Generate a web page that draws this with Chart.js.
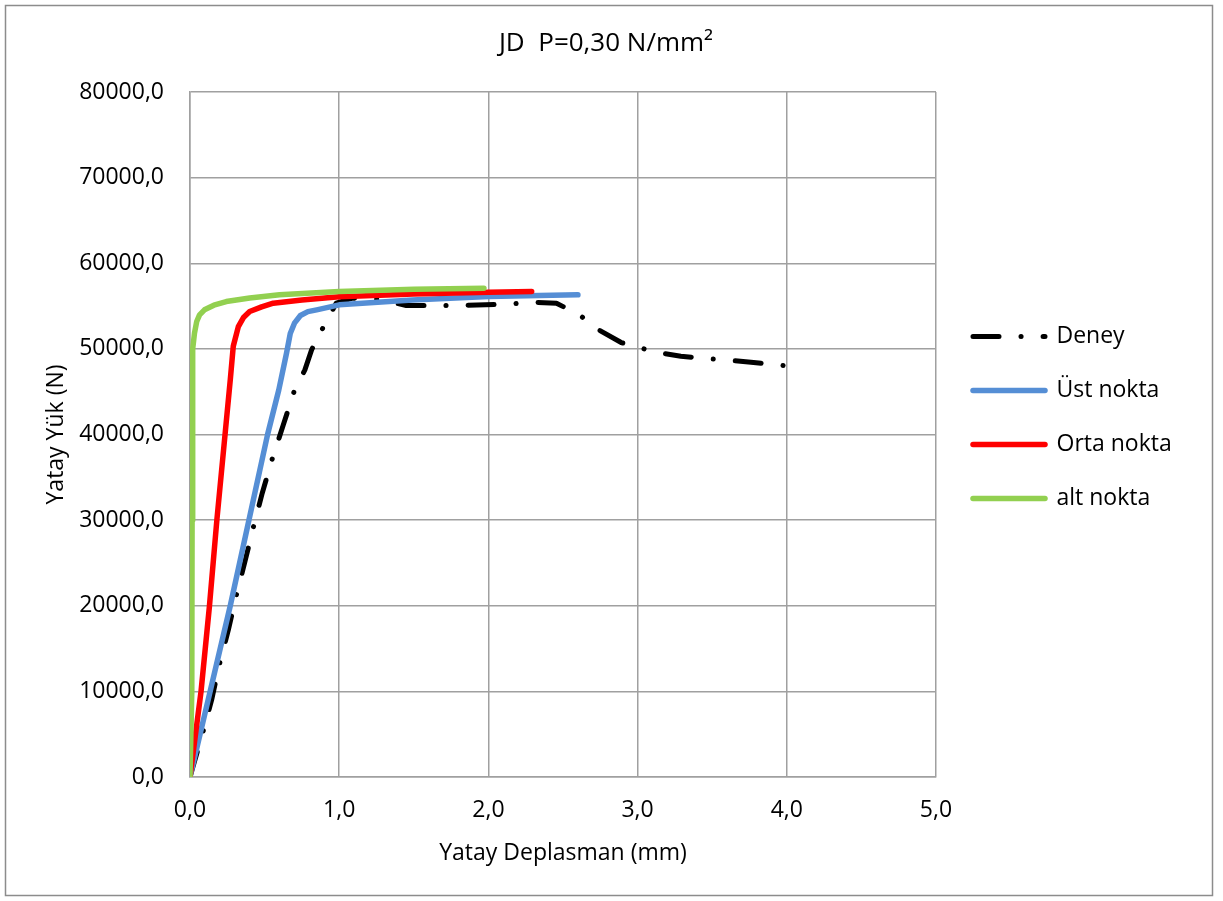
<!DOCTYPE html>
<html>
<head>
<meta charset="utf-8">
<title>JD P=0,30 N/mm²</title>
<script src="https://cdn.jsdelivr.net/npm/chart.js@4.4.1/dist/chart.umd.min.js"></script>
<style>
  html, body { margin: 0; padding: 0; background: #ffffff; }
</style>
</head>
<body>
<canvas id="yukChart" width="1223" height="901"></canvas>
<script>
// axis ticks
const xTicks = [0, 1, 2, 3, 4, 5];
const yTicks = [0, 10000, 20000, 30000, 40000, 50000, 60000, 70000, 80000];

// Deney (test)
const deneyX = [0, 0.085, 0.145, 0.196, 0.257, 0.308, 0.368, 0.424, 0.484, 0.549, 0.625, 0.697, 0.77, 0.815, 0.893, 0.98, 1.09, 1.27, 1.45, 1.63, 1.80, 2.13, 2.29, 2.456, 2.61, 2.74, 2.89, 3.13, 3.29, 3.46, 3.6, 3.76, 4.0];
const deneyY = [0, 5140, 9000, 13080, 17170, 21060, 25150, 29120, 33140, 37030, 41100, 44980, 47550, 49880, 52530, 55340, 55920, 55800, 55060, 55060, 55060, 55220, 55450, 55340, 53970, 52220, 50740, 49570, 49150, 48870, 48680, 48450, 48010];

// Üst nokta
const ustX = [0, 0.135, 0.27, 0.395, 0.52, 0.595, 0.647, 0.672, 0.70, 0.74, 0.79, 0.849, 1.0, 1.49, 2.0, 2.6];
const ustY = [0, 10000, 20000, 30000, 40000, 45200, 49500, 51800, 53000, 53900, 54350, 54560, 55140, 55720, 56110, 56310];

// Orta nokta
const ortaX = [0, 0.074, 0.13, 0.18, 0.27, 0.29, 0.324, 0.36, 0.40, 0.48, 0.558, 0.75, 1.0, 1.5, 2.0, 2.29];
const ortaY = [0, 10000, 19900, 30000, 46400, 50300, 52600, 53700, 54360, 54900, 55340, 55700, 56100, 56400, 56600, 56700];

// alt nokta
const altX = [0, 0.012, 0.014, 0.016, 0.02, 0.03, 0.045, 0.064, 0.097, 0.16, 0.243, 0.4, 0.6, 1.0, 1.5, 1.97];
const altY = [0, 10000, 30000, 45000, 50000, 51830, 53200, 53970, 54560, 55100, 55530, 55950, 56310, 56700, 56950, 57090];

const toPoints = (xs, ys) => xs.map((x, i) => ({ x: x, y: ys[i] }));
const fmt = (v) => Number(v).toFixed(1).replace(".", ",");

const gridColor = "#a0a0a0";
const font = "'Open Sans', sans-serif";

Chart.defaults.font.family = font;
Chart.defaults.font.size = 23;
Chart.defaults.color = "#000000";

// white background and outer frame
const framePlugin = {
    id: "frame",
    beforeDraw(chart) {
        const ctx = chart.ctx;
        ctx.save();
        ctx.fillStyle = "#ffffff";
        ctx.fillRect(0, 0, chart.width, chart.height);
        ctx.strokeStyle = "#8c8c8c";
        ctx.lineWidth = 1.5;
        ctx.strokeRect(5.5, 5.5, 1207, 890);
        ctx.restore();
    },
};

// fixed legend column to the right of the plot
const legendWidth = 276;
const legendShiftX = 6;
const legendShiftY = -18;
const legendFitPlugin = {
    id: "legendFit",
    beforeLayout(chart) {
        const lg = chart.legend;
        if (!lg._fixedWidth) {
            const fit = lg.fit;
            lg.fit = function () {
                fit.call(this);
                this.width = legendWidth;
            };
            lg._fixedWidth = true;
        }
    },
    afterLayout(chart) {
        const lg = chart.legend;
        lg.left += legendShiftX;
        lg.right += legendShiftX;
        lg.top += legendShiftY;
        lg.bottom += legendShiftY;
    },
};

const lineBase = {
    showLine: true,
    pointRadius: 0,
    pointHoverRadius: 0,
    tension: 0,
    borderCapStyle: "round",
    borderJoinStyle: "round",
    fill: false,
};

new Chart(document.getElementById("yukChart"), {
    type: "scatter",
    data: {
        datasets: [
            Object.assign({}, lineBase, {
                label: "Deney",
                data: toPoints(deneyX, deneyY),
                borderColor: "#000000",
                backgroundColor: "#000000",
                borderWidth: 5,
                borderDash: [26, 22, 0.1, 22],
                order: 4,
            }),
            Object.assign({}, lineBase, {
                label: "Üst nokta",
                data: toPoints(ustX, ustY),
                borderColor: "#558ed5",
                backgroundColor: "#558ed5",
                borderWidth: 5.5,
                order: 3,
            }),
            Object.assign({}, lineBase, {
                label: "Orta nokta",
                data: toPoints(ortaX, ortaY),
                borderColor: "#ff0000",
                backgroundColor: "#ff0000",
                borderWidth: 5.5,
                order: 2,
            }),
            Object.assign({}, lineBase, {
                label: "alt nokta",
                data: toPoints(altX, altY),
                borderColor: "#92d050",
                backgroundColor: "#92d050",
                borderWidth: 5.5,
                order: 1,
            }),
        ],
    },
    options: {
        responsive: false,
        animation: false,
        layout: {
            padding: { left: 0, right: 11, top: 0, bottom: 30 },
        },
        plugins: {
            title: {
                display: true,
                text: "JD  P=0,30 N/mm²",
                font: { size: 26, weight: "normal" },
                color: "#000000",
                padding: { top: 28, bottom: 32.8 },
            },
            legend: {
                position: "right",
                align: "center",
                labels: {
                    usePointStyle: true,
                    pointStyleWidth: 72,
                    padding: 31,
                    font: { size: 23 },
                    generateLabels(chart) {
                        return chart.data.datasets.map((ds, i) => ({
                            text: ds.label,
                            fillStyle: ds.borderColor,
                            strokeStyle: ds.borderColor,
                            lineWidth: ds.borderWidth,
                            lineDash: ds.borderDash || [],
                            lineCap: "round",
                            pointStyle: "line",
                            rotation: 180,
                            fontColor: "#000000",
                            hidden: false,
                            datasetIndex: i,
                        }));
                    },
                },
                onClick: null,
            },
            tooltip: { enabled: false },
        },
        scales: {
            x: {
                type: "linear",
                min: 0,
                max: 5,
                afterBuildTicks(scale) {
                    scale.ticks = xTicks.map((v) => ({ value: v }));
                },
                afterFit(scale) {
                    scale.height = 94;
                },
                ticks: {
                    padding: 20,
                    callback: (v) => fmt(v),
                },
                grid: { color: gridColor, lineWidth: 1.5, drawTicks: false },
                border: { color: gridColor, width: 1.5 },
                title: {
                    display: true,
                    text: "Yatay Deplasman (mm)",
                    font: { size: 23 },
                    padding: { top: 0, bottom: 4 },
                },
            },
            y: {
                type: "linear",
                min: 0,
                max: 80000,
                afterBuildTicks(scale) {
                    scale.ticks = yTicks.map((v) => ({ value: v }));
                },
                afterFit(scale) {
                    scale.width = 190;
                },
                ticks: {
                    padding: 26,
                    callback: (v) => fmt(v),
                },
                grid: { color: gridColor, lineWidth: 1.5, drawTicks: false },
                border: { color: gridColor, width: 1.5 },
                title: {
                    display: true,
                    text: "Yatay Yük (N)",
                    font: { size: 23 },
                    padding: { top: 43, bottom: 0 },
                },
            },
        },
    },
    plugins: [framePlugin, legendFitPlugin],
});
</script>
</body>
</html>
